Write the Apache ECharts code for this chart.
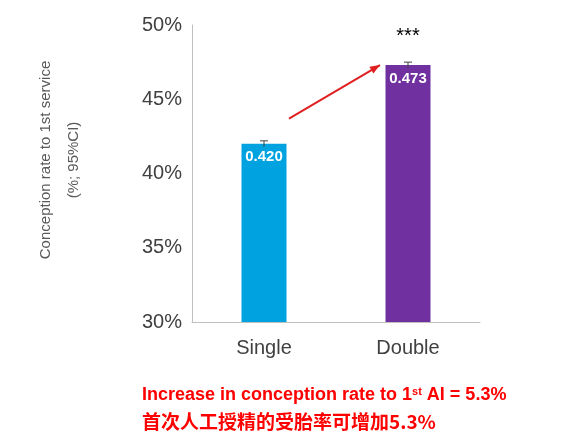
<!DOCTYPE html>
<html><head><meta charset="utf-8">
<script src="https://cdn.jsdelivr.net/npm/echarts@6/dist/echarts.min.js"></script>
<style>html,body{margin:0;padding:0;background:#fff}#c{width:565px;height:441px}</style>
</head><body><div id="c"></div>
<script>
var categories = ['Single', 'Double'];
var rates = [42.0, 47.3];
var errLow = [41.8, 47.1];
var errHigh = [42.2, 47.5];
var barColors = ['#00A3E0', '#7030A0'];
var labels = ['0.420', '0.473'];

var chart = echarts.init(document.getElementById('c'));
chart.setOption({
  animation: false,
  grid: { left: 192, right: 85, top: 25, bottom: 119 },
  xAxis: {
    type: 'category', data: categories,
    axisLine: { lineStyle: { color: '#bfbfbf' } },
    axisTick: { show: false },
    axisLabel: { fontSize: 20, color: '#404040', margin: 16, fontFamily: 'Liberation Sans' }
  },
  yAxis: {
    type: 'value', min: 30, max: 50, interval: 5,
    axisLine: { show: true, lineStyle: { color: '#bfbfbf' } },
    axisTick: { show: false },
    splitLine: { show: false },
    axisLabel: { formatter: '{value}%', fontSize: 20, color: '#404040', margin: 10, fontFamily: 'Liberation Sans' }
  },
  series: [{
    type: 'bar', barWidth: 45,
    data: rates.map(function (v, i) { return { value: v, itemStyle: { color: barColors[i] } }; }),
    label: {
      show: true, position: 'insideTop', distance: 6, color: '#fff', fontWeight: 'bold',
      fontSize: 15, fontFamily: 'Liberation Sans',
      formatter: function (p) { return labels[p.dataIndex]; }
    }
  }, {
    type: 'custom',
    data: categories.map(function (c, i) { return [i, errLow[i], errHigh[i]]; }),
    renderItem: function (params, api) {
      var lo = api.coord([api.value(0), api.value(1)]);
      var hi = api.coord([api.value(0), api.value(2)]);
      var s = { stroke: '#404040', lineWidth: 1 };
      return { type: 'group', children: [
        { type: 'line', shape: { x1: hi[0], y1: hi[1], x2: lo[0], y2: lo[1] }, style: s },
        { type: 'line', shape: { x1: hi[0] - 4, y1: hi[1], x2: hi[0] + 4, y2: hi[1] }, style: s }
      ] };
    },
    z: 5
  }]
});

var p1 = chart.convertToPixel({ seriesIndex: 0 }, [0, 43.7]);
var p2 = chart.convertToPixel({ seriesIndex: 0 }, [1, 47.3]);
var star = chart.convertToPixel({ seriesIndex: 0 }, [1, 49.2]);
var ax = p2[0] - 28, bx = p1[0] + 25;
chart.setOption({
  graphic: [{
    type: 'line', shape: { x1: bx, y1: p1[1], x2: ax, y2: p2[1] },
    style: { stroke: '#e02020', lineWidth: 2 }
  }, {
    type: 'polygon',
    shape: { points: [[0, 0], [-10, -4], [-10, 4]] },
    x: ax, y: p2[1],
    rotation: -Math.atan2(p2[1] - p1[1], ax - bx),
    style: { fill: '#e02020' }
  }, {
    type: 'text', x: star[0], y: star[1],
    style: { text: '***', fontSize: 20, fill: '#000', align: 'center', verticalAlign: 'middle', fontFamily: 'Liberation Sans' }
  }, {
    type: 'text', x: 60, y: 160, rotation: Math.PI / 2,
    style: { text: 'Conception rate to 1st service\n(%; 95%CI)', fontSize: 15, fill: '#595959',
      align: 'center', verticalAlign: 'middle', lineHeight: 28, fontFamily: 'Liberation Sans' }
  }, {
    type: 'text', x: 142, y: 386,
    style: {
      text: '{a|Increase in conception rate to 1}{s|st}{a| AI = 5.3%}',
      rich: {
        a: { fontSize: 18, fontWeight: 'bold', fill: '#ff0000', fontFamily: 'Liberation Sans' },
        s: { fontSize: 11, fontWeight: 'bold', fill: '#ff0000', verticalAlign: 'top', fontFamily: 'Liberation Sans' }
      }
    }
  }, {
    type: 'text', x: 142, y: 412,
    style: { text: '首次人工授精的受胎率可增加5.3%', fontSize: 19, fontWeight: 'bold', fill: '#ff0000', fontFamily: 'Noto Sans CJK SC' }
  }]
});
</script></body></html>
